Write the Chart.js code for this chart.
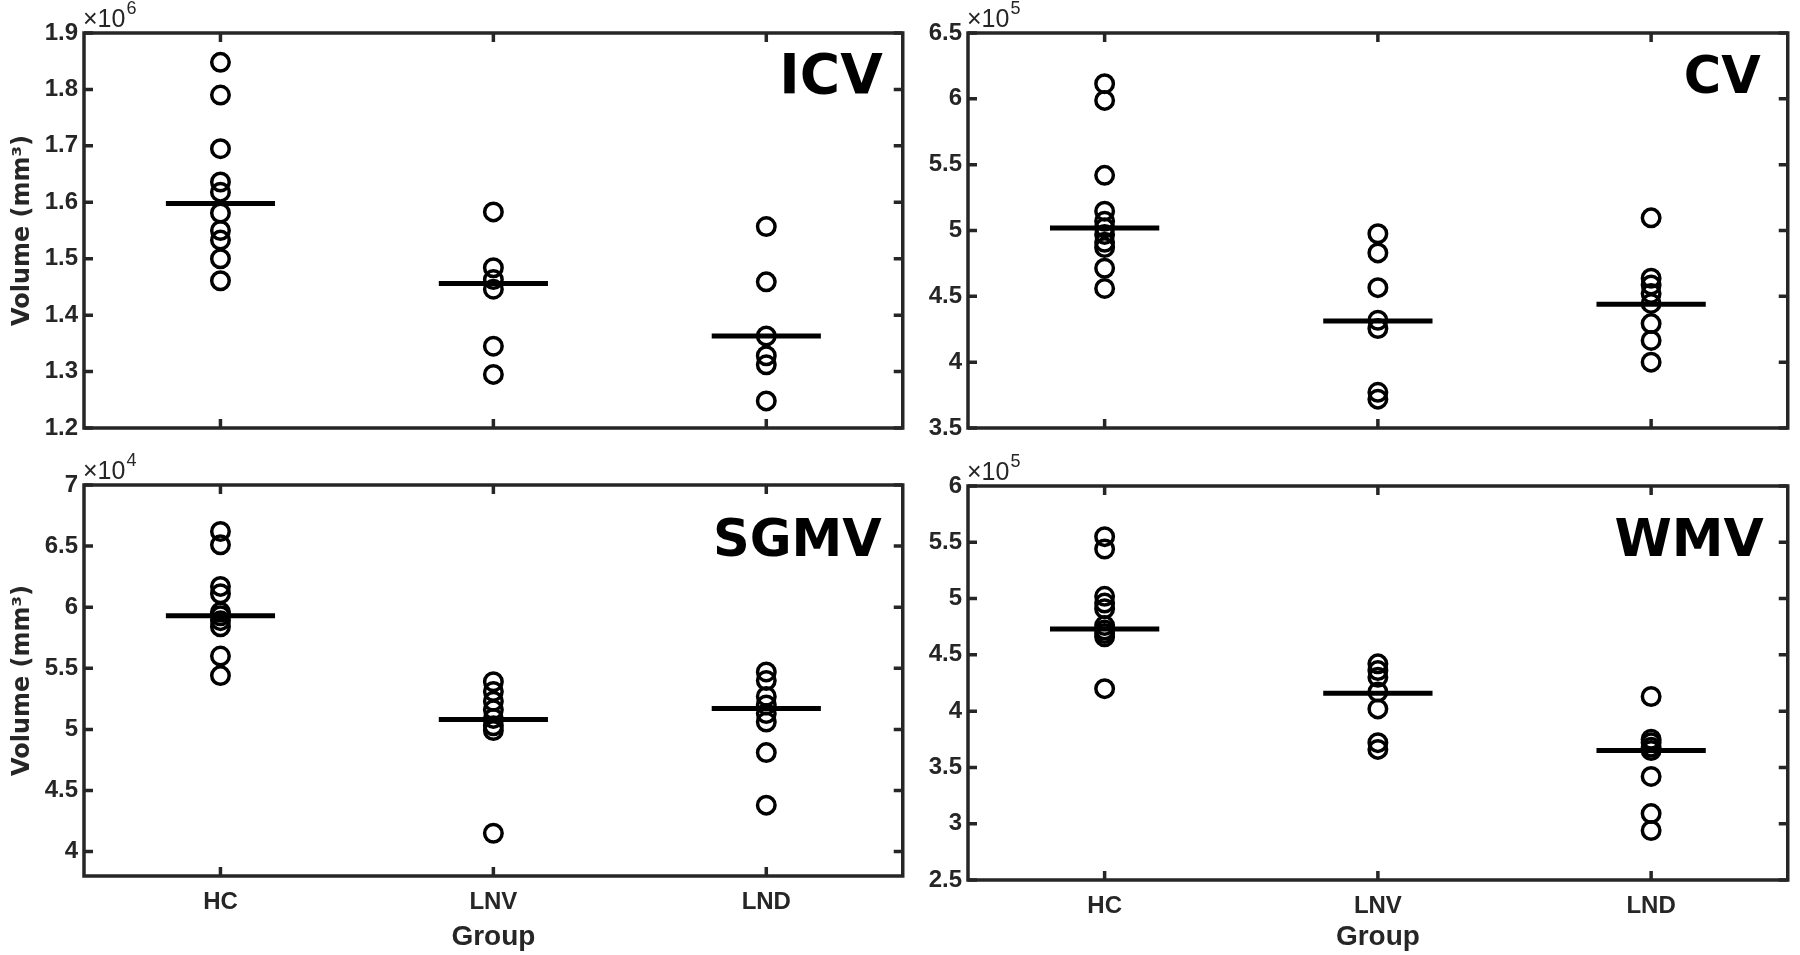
<!DOCTYPE html>
<html>
<head>
<meta charset="utf-8">
<style>
html,body{margin:0;padding:0;background:#fff;}
body{width:1800px;height:955px;position:relative;overflow:hidden;}
.box{position:absolute;}
</style>
</head>
<body>
<div class="box" style="left:0;top:0;width:915px;height:450px"><canvas id="c1"></canvas></div>
<div class="box" style="left:915px;top:0;width:885px;height:450px"><canvas id="c2"></canvas></div>
<div class="box" style="left:0;top:450px;width:915px;height:505px"><canvas id="c3"></canvas></div>
<div class="box" style="left:915px;top:450px;width:885px;height:505px"><canvas id="c4"></canvas></div>
<script src="https://cdnjs.cloudflare.com/ajax/libs/Chart.js/4.4.1/chart.umd.js"></script>
<script>
const groups=['HC','LNV','LND'];

// ICV, x10^6 mm3
const icvHC=[1.848,1.790,1.695,1.636,1.618,1.581,1.550,1.533,1.500,1.461];
const icvLNV=[1.583,1.484,1.463,1.446,1.345,1.295];
const icvLND=[1.557,1.459,1.363,1.328,1.312,1.248];
const icvMed=[1.598,1.456,1.363];
const icvTicks=[1.2,1.3,1.4,1.5,1.6,1.7,1.8,1.9];

// CV, x10^5 mm3
const cvHC=[6.115,5.988,5.419,5.147,5.07,5.02,4.97,4.91,4.87,4.713,4.56];
const cvLNV=[4.975,4.83,4.566,4.318,4.255,3.771,3.719];
const cvLND=[5.096,4.637,4.586,4.522,4.446,4.293,4.165,4.0];
const cvMed=[5.019,4.313,4.44];
const cvTicks=[3.5,4,4.5,5,5.5,6,6.5];

// SGMV, x10^4 mm3
const sgHC=[6.62,6.51,6.17,6.11,5.96,5.93,5.89,5.84,5.60,5.44];
const sgLNV=[5.39,5.31,5.23,5.16,5.09,5.03,4.99,4.15];
const sgLND=[5.47,5.40,5.27,5.20,5.13,5.06,4.81,4.38];
const sgMed=[5.93,5.08,5.17];
const sgTicks=[4,4.5,5,5.5,6,6.5,7];

// WMV, x10^5 mm3
const wmHC=[5.55,5.44,5.02,4.96,4.91,4.76,4.72,4.69,4.66,4.20];
const wmLNV=[4.42,4.36,4.30,4.17,4.02,3.72,3.66];
const wmLND=[4.13,3.75,3.72,3.68,3.65,3.42,3.09,2.94];
const wmMed=[4.73,4.16,3.65];
const wmTicks=[2.5,3,3.5,4,4.5,5,5.5,6];

Chart.defaults.font.family='"Liberation Sans", Arial, sans-serif';
Chart.defaults.color='#262626';

const AX='#262626';

function framePlugin(p){
  return {
    id:'frame',
    afterDraw(chart){
      const {ctx,chartArea:a,scales:{x,y}}=chart;
      ctx.save();
      ctx.strokeStyle=AX;ctx.lineWidth=3.5;
      ctx.beginPath();
      p.ticks.forEach(v=>{
        const py=y.getPixelForValue(v);
        ctx.moveTo(a.left,py);ctx.lineTo(a.left+9,py);
        ctx.moveTo(a.right,py);ctx.lineTo(a.right-9,py);
      });
      [1,2,3].forEach(v=>{
        const px=x.getPixelForValue(v);
        ctx.moveTo(px,a.bottom);ctx.lineTo(px,a.bottom-9);
        ctx.moveTo(px,a.top);ctx.lineTo(px,a.top+9);
      });
      ctx.stroke();
      ctx.strokeRect(a.left,a.top,a.right-a.left,a.bottom-a.top);
      // exponent
      ctx.fillStyle=AX;ctx.textBaseline='alphabetic';ctx.textAlign='left';
      ctx.font='25px "Liberation Sans", Arial, sans-serif';
      ctx.fillText('\u00d710',a.left-1,a.top-6);
      const w=ctx.measureText('\u00d710').width;
      ctx.font='18px "Liberation Sans", Arial, sans-serif';
      ctx.fillText(p.exp,a.left+w,a.top-19);
      // panel label
      ctx.fillStyle='#000';ctx.textAlign='right';
      ctx.font='bold '+p.lsize+'px "DejaVu Sans", sans-serif';
      ctx.fillText(p.label,a.right-p.inset,a.top+p.drop);
      ctx.restore();
    }
  };
}

function makePanel(id,p){
  const pts=[p.hc,p.lnv,p.lnd];
  const medData=[];
  p.med.forEach((m,i)=>{
    medData.push({x:i+1-0.2,y:m},{x:i+1+0.2,y:m},{x:i+1.5,y:null});
  });
  const datasets=[{
    data:medData,showLine:true,spanGaps:false,borderColor:'#000',borderWidth:5,
    pointRadius:0,borderCapStyle:'butt'
  }];
  pts.forEach((arr,i)=>{
    datasets.push({
      data:arr.map(v=>({x:i+1,y:v})),
      pointRadius:8.75,pointBorderWidth:3.5,pointBorderColor:'#000',
      pointBackgroundColor:'rgba(0,0,0,0)',showLine:false
    });
  });
  new Chart(document.getElementById(id),{
    type:'scatter',
    data:{datasets},
    options:{
      responsive:true,maintainAspectRatio:false,animation:false,
      layout:{padding:{top:p.padTop,right:p.padRight,left:0,bottom:0}},
      plugins:{legend:{display:false},tooltip:{enabled:false}},
      scales:{
        x:{
          type:'linear',min:0.5,max:3.5,
          afterBuildTicks:s=>{s.ticks=[1,2,3].map(v=>({value:v}));},
          afterFit:s=>{s.height=p.xHeight;},
          ticks:{display:p.showX,autoSkip:false,maxRotation:0,padding:12,
            font:{size:24,weight:'bold'},callback:v=>groups[v-1]},
          grid:{display:false,drawTicks:false},border:{display:false},
          title:{display:p.showX,text:'Group',font:{size:28,weight:'bold'},padding:{top:0,bottom:1}}
        },
        y:{
          min:p.min,max:p.max,
          afterBuildTicks:s=>{s.ticks=p.ticks.map(v=>({value:v}));},
          afterFit:s=>{s.width=p.yWidth;},
          ticks:{autoSkip:false,padding:6,font:{size:24,weight:'bold'},callback:v=>String(v)},
          grid:{display:false,drawTicks:false},border:{display:false},
          title:{display:p.showY,text:'Volume (mm\u00b3)',
            font:{family:'"DejaVu Sans", sans-serif',size:24,weight:'bold'},padding:{top:8,bottom:0}}
        }
      }
    },
    plugins:[framePlugin(p)]
  });
}

makePanel('c1',{hc:icvHC,lnv:icvLNV,lnd:icvLND,med:icvMed,ticks:icvTicks,min:1.2,max:1.9,
  label:'ICV',lsize:55,exp:'6',showX:false,showY:true,yWidth:84,padTop:33,padRight:5,xHeight:22,drop:60,inset:20});
makePanel('c2',{hc:cvHC,lnv:cvLNV,lnd:cvLND,med:cvMed,ticks:cvTicks,min:3.5,max:6.5,
  label:'CV',lsize:51,exp:'5',showX:false,showY:false,yWidth:53,padTop:33,padRight:7,xHeight:22,drop:60,inset:27});
makePanel('c3',{hc:sgHC,lnv:sgLNV,lnd:sgLND,med:sgMed,ticks:sgTicks,min:3.8,max:7,
  label:'SGMV',lsize:51,exp:'4',showX:true,showY:true,yWidth:84,padTop:35,padRight:5,xHeight:79,drop:71,inset:21});
makePanel('c4',{hc:wmHC,lnv:wmLNV,lnd:wmLND,med:wmMed,ticks:wmTicks,min:2.5,max:6,
  label:'WMV',lsize:52,exp:'5',showX:true,showY:false,yWidth:53,padTop:36,padRight:7,xHeight:75,drop:70,inset:24});
</script>
</body>
</html>
